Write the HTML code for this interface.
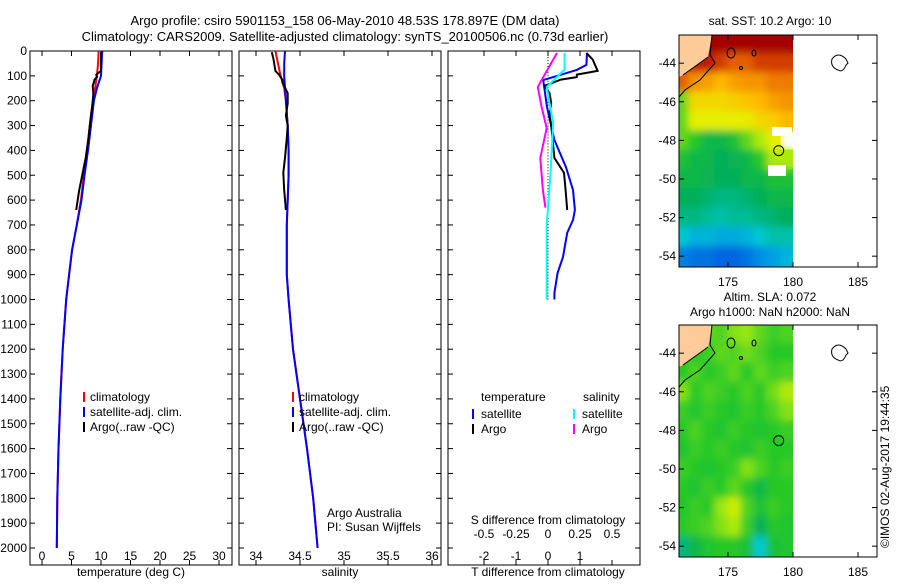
<!DOCTYPE html>
<html><head><meta charset="utf-8"><style>
body{margin:0;background:#fff}
svg text{font-family:"Liberation Sans",sans-serif;font-size:12px;fill:#000}
</style></head><body>
<svg id="c" width="900" height="580" viewBox="0 0 900 580">
<defs><filter id="bl" x="-5%" y="-5%" width="110%" height="110%"><feGaussianBlur stdDeviation="4"/></filter></defs>
<text x="345" y="25" text-anchor="middle" style="font-size:13px">Argo profile: csiro 5901153_158 06-May-2010 48.53S 178.897E (DM data)</text>
<text x="345" y="41" text-anchor="middle" style="font-size:13px">Climatology: CARS2009. Satellite-adjusted climatology: synTS_20100506.nc (0.73d earlier)</text>
<text x="770" y="25" text-anchor="middle">sat. SST: 10.2 Argo: 10</text>
<text x="770" y="301" text-anchor="middle">Altim. SLA: 0.072</text>
<text x="770" y="316" text-anchor="middle">Argo h1000: NaN h2000: NaN</text>
<text transform="translate(889,548) rotate(-90)">©IMOS 02-Aug-2017 19:44:35</text>
<g id="g"></g>
</svg>
<script>
// ---- data ----
const depthTicks=[0,100,200,300,400,500,600,700,800,900,1000,1100,1200,1300,1400,1500,1600,1700,1800,1900,2000];
const tempTicks=[0,5,10,15,20,25,30];
const salTicks=[34,34.5,35,35.5,36];
const tdTicks=[-2,-1,0,1,2];
const tdLabels=["-2","-1","0","1",""];
const sdTicks=[-0.5,-0.25,0,0.25,0.5];
const sdLabels=["-0.5","-0.25","0","0.25","0.5"];
const climDepth=[0,50,100,150,200,300,400,500,600,700,800,900,1000,1200,1400,1600,1800,2000];
const climTemp=[9.6,9.5,9.3,9.0,8.6,8.1,7.6,7.1,6.6,5.9,5.1,4.6,4.1,3.5,3.1,2.8,2.6,2.5];
const satTemp=[10.2,10.1,10.0,9.3,8.8,8.3,7.8,7.2,6.7,5.9,5.1,4.6,4.1,3.5,3.1,2.8,2.6,2.5];
const climSal=[34.22,34.25,34.28,34.32,34.34,34.36,34.37,34.37,34.36,34.35,34.35,34.35,34.37,34.42,34.5,34.58,34.65,34.7];
const satSal=[34.33,34.32,34.32,34.33,34.34,34.36,34.37,34.37,34.36,34.35,34.35,34.35,34.37,34.42,34.5,34.58,34.65,34.7];
const argoDepth=[5,35,80,95,105,115,125,140,170,210,260,300,350,430,490,560,640];
const argoTemp=[10.0,10.0,10.0,9.2,9.3,8.9,8.8,8.6,8.7,8.6,8.3,8.1,7.9,7.4,6.9,6.3,5.8];
const argoSal=[34.18,34.2,34.22,34.26,34.28,34.3,34.3,34.32,34.36,34.36,34.34,34.36,34.35,34.33,34.31,34.32,34.34];
const tdSatDepth=[8,56,76,117,225,358,467,559,640,680,732,829,893,974,1000];
const tdSat=[1.22,1.2,0.9,-0.15,-0.03,0.2,0.56,0.78,0.84,0.78,0.6,0.47,0.3,0.2,0.2];
const tdArgoDepth=[8,35,80,95,105,115,125,140,170,210,260,300,430,490,560,640];
const tdArgo=[1.2,1.4,1.55,0.9,0.9,0.4,0.2,-0.1,0.05,0.1,0.05,0.1,0.2,0.5,0.55,0.6];
const sdSatDepth=[8,75,145,290,490,700,975,1000];
const sdSat=[0.13,0.13,-0.01,0.04,0.02,-0.01,-0.01,-0.01];
const sdArgoDepth=[8,90,145,225,310,430,560,630];
const sdArgo=[0.07,-0.02,-0.08,-0.05,-0.01,-0.06,-0.04,-0.02];
const mapLons=[171,172,173,174,175,176,177,178,179];
const mapLats=[-42.5,-43.5,-44.5,-45.5,-46.5,-47.5,-48.5,-49.5,-50.5,-51.5,-52.5,-53.5];
const sstGrid=[
[null,null,0.95,0.95,0.95,0.95,0.95,0.95,0.95],
[null,0.9,0.9,0.85,0.8,0.8,0.85,0.85,0.85],
[0.8,0.72,0.7,0.66,0.7,0.72,0.72,0.76,0.76],
[0.45,0.6,0.6,0.6,0.62,0.64,0.66,0.7,0.72],
[0.45,0.55,0.55,0.55,0.55,0.56,0.6,0.62,0.66],
[0.45,0.42,0.38,0.38,0.4,0.45,0.5,0.55,null],
[0.4,0.38,0.38,0.36,0.37,0.38,0.42,0.5,0.5],
[0.38,0.38,0.37,0.36,0.36,0.38,0.38,0.4,0.4],
[0.36,0.36,0.35,0.34,0.34,0.35,0.36,0.38,0.38],
[0.34,0.34,0.33,0.32,0.33,0.33,0.34,0.35,0.36],
[0.3,0.28,0.28,0.27,0.27,0.28,0.3,0.32,0.32],
[0.22,0.2,0.2,0.18,0.18,0.2,0.24,0.26,0.28]];
const slaGrid=[
[null,null,0.45,0.44,0.47,0.48,0.45,0.43,0.44],
[null,0.42,0.43,0.45,0.44,0.46,0.44,0.42,0.42],
[0.42,0.44,0.42,0.43,0.45,0.42,0.45,0.43,0.44],
[0.47,0.42,0.44,0.43,0.42,0.44,0.42,0.46,0.5],
[0.43,0.41,0.43,0.42,0.41,0.43,0.42,0.44,0.47],
[0.42,0.44,0.42,0.41,0.43,0.42,0.41,0.42,0.43],
[0.41,0.43,0.42,0.43,0.42,0.41,0.43,0.42,0.42],
[0.43,0.42,0.41,0.42,0.43,0.47,0.44,0.42,0.43],
[0.42,0.41,0.43,0.42,0.45,0.42,0.38,0.42,0.42],
[0.41,0.43,0.42,0.48,0.53,0.44,0.4,0.43,0.42],
[0.42,0.43,0.44,0.47,0.5,0.43,0.36,0.42,0.41],
[0.34,0.38,0.41,0.42,0.42,0.4,0.3,0.4,0.41]];

// ---- helpers ----
const NS="http://www.w3.org/2000/svg";
const G=document.getElementById('g');
function el(t,a,p){const e=document.createElementNS(NS,t);for(const k in a)e.setAttribute(k,a[k]);(p||G).appendChild(e);return e;}
function txt(x,y,s,anchor){const e=el('text',{x:x,y:y,'text-anchor':anchor||'middle'});e.textContent=s;return e;}
const yD=d=>51+d*0.2485;
const xT=v=>42+v*5.9;
const xS=v=>256+(v-34)*88;
const xTD=v=>548+v*32;
const xSD=v=>548+v*128;
function line(xs,ds,fx,col,name,w){
  const pts=ds.map((d,i)=>fx(xs[i]).toFixed(1)+','+yD(d).toFixed(1)).join(' ');
  const p=el('polyline',{points:pts,fill:'none',stroke:col,'stroke-width':w||2});
  
  
}
function frame(x0,x1,name){
  const r=el('rect',{x:x0,y:51,width:x1-x0,height:514,fill:'none',stroke:'#000','stroke-width':1});
  
  
  depthTicks.forEach(d=>{el('line',{x1:x0,x2:x0+5,y1:yD(d),y2:yD(d),stroke:'#000'});el('line',{x1:x1-5,x2:x1,y1:yD(d),y2:yD(d),stroke:'#000'});});
}
function xticks(vals,labels,fx,x0,x1,yl){
  vals.forEach((v,i)=>{const x=fx(v);el('line',{x1:x,x2:x,y1:565,y2:560,stroke:'#000'});el('line',{x1:x,x2:x,y1:51,y2:56,stroke:'#000'});
    const t=txt(x,yl,labels[i]);});
}
// panel 1
frame(30,232,'temperature-panel');
depthTicks.forEach(d=>{const t=txt(27,yD(d)+4,String(d),'end');});
xticks(tempTicks,tempTicks.map(String),xT,30,232,560);
txt(131,576,'temperature (deg C)');
line(climTemp,climDepth,xT,'#f00','clim-temperature-line');
line(satTemp,climDepth,xT,'#00f','sat-temperature-line');
line(argoTemp,argoDepth,xT,'#000','argo-temperature-line');
// panel 2
frame(239,441,'salinity-panel');
xticks(salTicks,salTicks.map(String),xS,239,441,560);
txt(340,576,'salinity');
line(climSal,climDepth,xS,'#f00','clim-salinity-line');
line(satSal,climDepth,xS,'#00f','sat-salinity-line');
line(argoSal,argoDepth,xS,'#000','argo-salinity-line');
txt(327,517,'Argo Australia','start');txt(327,531,'PI: Susan Wijffels','start');
// legends
[84,293].forEach(lx=>{
  [['climatology','#f00'],['satellite-adj. clim.','#00f'],['Argo(..raw -QC)','#000']].forEach((it,i)=>{
    const y=398+i*15;el('line',{x1:lx,x2:lx,y1:y-6,y2:y+4,stroke:it[1],'stroke-width':2});
    const t=txt(lx+6,y+3,it[0],'start');
  });
});
// panel 3
frame(448,640,'difference-panel');
for(let d=0;d<=1000;d+=12)el('rect',{x:547.5,y:yD(d),width:1,height:1,fill:'#000'});
xticks(tdTicks,tdLabels,xTD,448,640,560);
sdTicks.forEach((v,i)=>{const t=txt(xSD(v),538,sdLabels[i]);});
txt(548,524,'S difference from climatology');
txt(548,576,'T difference from climatology');
line(tdSat,tdSatDepth,xTD,'#00f','t-diff-satellite-line');
line(tdArgo,tdArgoDepth,xTD,'#000','t-diff-argo-line');
line(sdSat,sdSatDepth,xSD,'#0ff','s-diff-satellite-line');
line(sdArgo,sdArgoDepth,xSD,'#f0f','s-diff-argo-line');
txt(481,401,'temperature','start');txt(583,401,'salinity','start');
[['satellite','#00f',473],['Argo','#000',473],['satellite','#0ff',574],['Argo','#f0f',574]].forEach((it,i)=>{
  const y=415+(i%2)*15;el('line',{x1:it[2],x2:it[2],y1:y-6,y2:y+4,stroke:it[1],'stroke-width':2});
  const t=txt(it[2]+8,y+3,it[0],'start');
});
// maps
const stops=[[0.15,[0,80,220]],[0.25,[0,150,230]],[0.3,[0,200,210]],[0.36,[0,175,90]],[0.42,[40,200,40]],[0.48,[150,230,20]],[0.55,[230,240,0]],[0.65,[255,190,0]],[0.75,[240,130,0]],[0.85,[210,60,0]],[0.95,[165,0,0]]];
function cmap(v){if(v<=stops[0][0])return 'rgb('+stops[0][1]+')';for(let i=1;i<stops.length;i++){if(v<=stops[i][0]){const a=stops[i-1],b=stops[i],f=(v-a[0])/(b[0]-a[0]);return 'rgb('+a[1].map((c,k)=>Math.round(c+(b[1][k]-c)*f))+')';}}return 'rgb('+stops[stops.length-1][1]+')';}
function drawMap(top,grid,name){
  const xL=v=>793+(v-180)*13, yL=v=>top+(-42.54-v)*19.3;
  const g=el('g',{});
  el('clipPath',{id:'cp'+top},g);
  el('rect',{x:679,y:top,width:114,height:232},document.getElementById('cp'+top));
  const cg=el('g',{'clip-path':'url(#cp'+top+')'},g);
  el('rect',{x:679,y:top,width:114,height:232,fill:'#fff'},cg);
  const base=el('g',{},cg);
  const soft=el('g',{filter:'url(#bl)'},cg);
  grid.forEach((row,r)=>row.forEach((v,c)=>{if(v===null)return;
    const y0=yL(mapLats[r]),y1=r==grid.length-1?top+240:yL(mapLats[r]-1);
    [base,soft].forEach(layer=>{
      const cell=el('rect',{x:xL(mapLons[c])-0.5,y:y0-0.5,width:c==grid[0].length-1?14:14,height:y1-y0+1,fill:cmap(v)},layer);
      
      
    });}));
  el('rect',{x:793,y:top,width:20,height:232,fill:'#fff'},cg);
  el('polygon',{points:[[679,top],[712,top],[708,top+22],[697,top+30],[683,top+40],[679,top+42]].join(' '),fill:'#fc9','stroke':'none'},cg);
  el('polyline',{points:[[712,top],[710,top+20],[715,top+28],[700,top+45],[685,top+55],[679,top+62]].join(' '),fill:'none',stroke:'#000'},cg);
  el('polyline',{points:[[708,top+22],[697,top+30],[683,top+40]].join(' '),fill:'none',stroke:'#000'},cg);
  el('ellipse',{cx:731,cy:top+18,rx:4,ry:5,fill:'none',stroke:'#000'},g);
  el('ellipse',{cx:754,cy:top+18,rx:2,ry:3,fill:'none',stroke:'#000'},g);
  el('circle',{cx:741,cy:top+33,r:1.5,fill:'none',stroke:'#000'},g);
  el('path',{d:`M832 ${top+24} q6 -8 14 0 l2 4 -2 2 q-3 8 -8 5 q-8 -3 -6 -11z`,fill:'none',stroke:'#000'},g);
  el('circle',{cx:xL(178.9),cy:yL(-48.53),r:5,fill:'none',stroke:'#000'},g);
  el('rect',{x:679,y:top,width:198,height:232,fill:'none',stroke:'#000'},g);
  [175,180,185].forEach(v=>{el('line',{x1:xL(v),x2:xL(v),y1:top,y2:top+5,stroke:'#000'});el('line',{x1:xL(v),x2:xL(v),y1:top+232,y2:top+227,stroke:'#000'});txt(xL(v),top+251,String(v));});
  [-44,-46,-48,-50,-52,-54].forEach(v=>{const y=yL(v);el('line',{x1:679,x2:684,y1:y,y2:y,stroke:'#000'});el('line',{x1:872,x2:877,y1:y,y2:y,stroke:'#000'});txt(676,y+4,String(v),'end');});
}
drawMap(35,sstGrid,'sst-map');
// SST map white gaps
el('rect',{x:772,y:127,width:20,height:9,fill:'#fff'});
el('rect',{x:768,y:165,width:18,height:11,fill:'#fff'});
drawMap(325,slaGrid,'sla-map');
</script>
</body></html>
